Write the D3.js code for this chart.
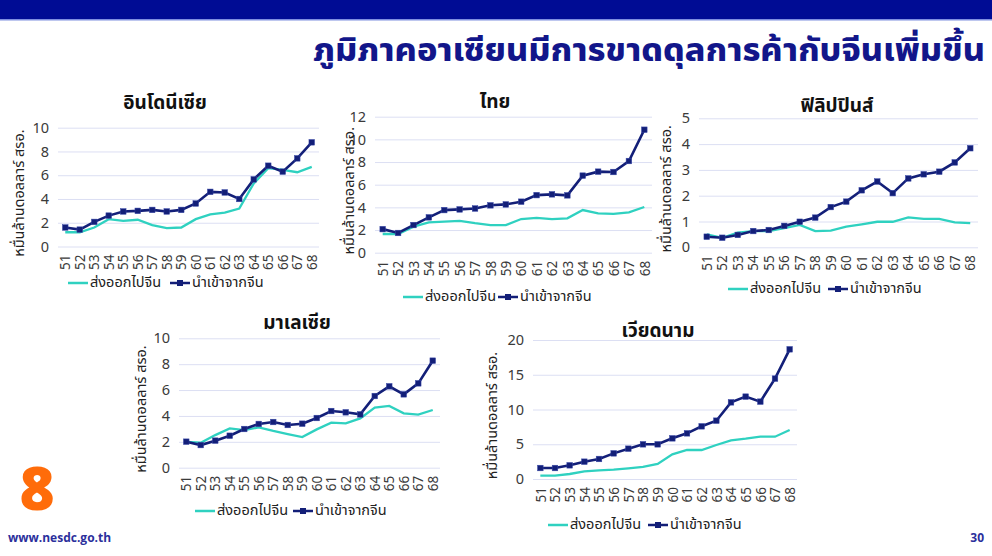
<!DOCTYPE html>
<html><head><meta charset="utf-8">
<script src="https://cdn.jsdelivr.net/npm/d3@7"></script>
<style>
html,body{margin:0;padding:0;background:#fff;}
svg{display:block;font-family:"Noto Sans Thai","Noto Sans","DejaVu Sans",sans-serif;}
</style></head><body>
<svg id="c" width="992" height="556"></svg>
<script>
const years = ["51","52","53","54","55","56","57","58","59","60","61","62","63","64","65","66","67","68"];
const seriesNames = ["ส่งออกไปจีน","นำเข้าจากจีน"];
const countries = ["อินโดนีเซีย","ไทย","ฟิลิปปินส์","มาเลเซีย","เวียดนาม"];
const yLabel = "หมื่นล้านดอลลาร์ สรอ.";
const mainTitle = "ภูมิภาคอาเซียนมีการขาดดุลการค้ากับจีนเพิ่มขึ้น";

const idnExport = [1.2,1.2,1.6,2.3,2.15,2.25,1.8,1.55,1.6,2.3,2.7,2.85,3.2,5.3,6.6,6.45,6.25,6.7];
const idnImport = [1.6,1.42,2.07,2.6,2.95,3.0,3.08,2.95,3.08,3.62,4.6,4.55,4.0,5.65,6.8,6.3,7.42,8.77];
const thaExport = [1.65,1.65,2.3,2.68,2.74,2.8,2.6,2.44,2.44,2.97,3.08,2.97,3.03,3.76,3.47,3.42,3.56,4.03];
const thaImport = [2.08,1.74,2.44,3.12,3.76,3.82,3.9,4.18,4.26,4.5,5.08,5.15,5.06,6.8,7.15,7.12,8.09,10.85];
const phlExport = [0.5,0.37,0.57,0.63,0.63,0.74,0.87,0.63,0.65,0.8,0.89,0.99,0.99,1.16,1.1,1.1,0.97,0.94];
const phlImport = [0.41,0.37,0.48,0.63,0.67,0.83,0.99,1.15,1.56,1.77,2.21,2.55,2.1,2.67,2.83,2.93,3.29,3.84];
const mysExport = [2.0,1.93,2.52,3.04,2.91,3.12,2.84,2.6,2.37,2.96,3.48,3.43,3.81,4.64,4.77,4.2,4.1,4.46];
const mysImport = [2.01,1.75,2.09,2.47,2.99,3.38,3.53,3.3,3.4,3.84,4.38,4.28,4.12,5.54,6.29,5.67,6.52,8.27];
const vnmExport = [0.48,0.48,0.72,1.1,1.25,1.34,1.53,1.73,2.16,3.55,4.17,4.17,4.89,5.56,5.8,6.09,6.09,7.05];
const vnmImport = [1.58,1.58,1.97,2.49,2.88,3.69,4.36,4.99,4.99,5.85,6.57,7.58,8.39,11.03,11.85,11.13,14.44,18.66];

const idnTicks = [0,2,4,6,8,10];
const thaTicks = [0,2,4,6,8,10,12];
const phlTicks = [0,1,2,3,4,5];
const mysTicks = [0,2,4,6,8,10];
const vnmTicks = [0,5,10,15,20];

const exportData = [idnExport, thaExport, phlExport, mysExport, vnmExport];
const importData = [idnImport, thaImport, phlImport, mysImport, vnmImport];
const tickData = [idnTicks, thaTicks, phlTicks, mysTicks, vnmTicks];

// layout only
const layout = [
  {x0:58, x1:319, yT:127.7, yB:246.5, tx:165, ty:103, ly:283, l1:68, l2:170, yl:20},
  {x0:375, x1:652, yT:116.7, yB:252.7, tx:495, ty:102, ly:297, l1:403, l2:498, yl:350},
  {x0:699, x1:978, yT:118.3, yB:247.3, tx:837, ty:106, ly:289, l1:728, l2:828, yl:667},
  {x0:179, x1:440, yT:338.3, yB:467.7, tx:297, ty:323, ly:511, l1:195, l2:293, yl:142},
  {x0:533, x1:797, yT:340, yB:479, tx:658, ty:331, ly:525, l1:548, l2:648, yl:493}
];

const cyan = "#2fd1c0", navy = "#131f78", grid = "#dcdff3", tickCol = "#3a3a3a";
const svg = d3.select("#c");

svg.append("rect").attr("x",0).attr("y",0).attr("width",992).attr("height",19).attr("fill","#000c94");
svg.append("rect").attr("x",0).attr("y",19).attr("width",992).attr("height",1.5).attr("fill","#7f8fe0");

svg.append("text").attr("x",985).attr("y",61).attr("text-anchor","end")
  .attr("font-size",32).attr("font-weight",800).attr("fill","#12168a")
  .attr("textLength",672).attr("lengthAdjust","spacingAndGlyphs")
  .text(mainTitle);

countries.forEach((name,i)=>{
  const L = layout[i];
  const ticks = tickData[i];
  const g = svg.append("g");
  const x = d3.scalePoint().domain(years).range([L.x0, L.x1]).padding(0.5);
  const y = d3.scaleLinear().domain([0, ticks[ticks.length-1]]).range([L.yB, L.yT]);

  const ya = d3.axisLeft(y).tickValues(ticks).tickSize(-(L.x1-L.x0)).tickPadding(9).tickFormat(d3.format("d"));
  const yg = g.append("g").attr("transform",`translate(${L.x0},0)`).call(ya);
  yg.select(".domain").remove();
  yg.selectAll(".tick line").attr("stroke",grid).attr("stroke-width",1);
  yg.selectAll(".tick text").attr("fill",tickCol).attr("font-size",14.5).attr("font-family","'Noto Sans',sans-serif");

  const xa = d3.axisBottom(x).tickSize(0).tickPadding(0);
  const xg = g.append("g").attr("transform",`translate(0,${L.yB})`).call(xa);
  xg.select(".domain").remove();
  xg.selectAll(".tick text").attr("fill",tickCol).attr("font-size",13.5).attr("font-family","'Noto Sans',sans-serif")
    .attr("transform","translate(0,8) rotate(-90)").attr("text-anchor","end").attr("dy","0.35em").attr("y",0).attr("x",0);

  const line = d3.line().x((d,j)=>x(years[j])).y(d=>y(d));
  g.append("path").datum(exportData[i]).attr("d",line).attr("fill","none").attr("stroke",cyan).attr("stroke-width",2.3);
  g.append("path").datum(importData[i]).attr("d",line).attr("fill","none").attr("stroke",navy).attr("stroke-width",2.6);
  g.selectAll("rect.m").data(importData[i]).enter().append("rect").attr("class","m")
    .attr("x",(d,j)=>x(years[j])-2.8).attr("y",d=>y(d)-2.8).attr("width",5.6).attr("height",5.6)
    .attr("fill",navy).attr("stroke","#3848a8").attr("stroke-width",0.5);

  g.append("text").attr("x",L.tx).attr("y",L.ty).attr("text-anchor","middle").attr("dominant-baseline","central")
    .attr("font-size",19).attr("font-weight",700).attr("fill","#111").text(name);

  g.append("text").attr("transform",`translate(${L.yl},${(L.yT+L.yB)/2+6}) rotate(-90)`)
    .attr("text-anchor","middle").attr("dominant-baseline","central").attr("font-size",14.5).attr("fill","#222").text(yLabel);

  g.append("line").attr("x1",L.l1).attr("x2",L.l1+20).attr("y1",L.ly).attr("y2",L.ly).attr("stroke",cyan).attr("stroke-width",2.5);
  g.append("text").attr("x",L.l1+22).attr("y",L.ly).attr("dominant-baseline","central").attr("font-size",14.5).attr("fill","#222").text(seriesNames[0]);
  g.append("line").attr("x1",L.l2).attr("x2",L.l2+20).attr("y1",L.ly).attr("y2",L.ly).attr("stroke",navy).attr("stroke-width",2.5);
  g.append("rect").attr("x",L.l2+7).attr("y",L.ly-3).attr("width",6).attr("height",6).attr("fill",navy);
  g.append("text").attr("x",L.l2+22).attr("y",L.ly).attr("dominant-baseline","central").attr("font-size",14.5).attr("fill","#222").text(seriesNames[1]);
});

svg.append("text").attr("x",37).attr("y",510).attr("text-anchor","middle")
  .attr("font-size",60).attr("font-weight",800).attr("fill","#ff6c0a").attr("font-family","'Open Sans',sans-serif").text("8");
svg.append("text").attr("x",8).attr("y",537).attr("dominant-baseline","central")
  .attr("font-size",12).attr("font-weight",700).attr("fill","#2b2f9c").attr("font-family","'Open Sans',sans-serif").text("www.nesdc.go.th");
svg.append("text").attr("x",984).attr("y",537).attr("text-anchor","end").attr("dominant-baseline","central")
  .attr("font-size",12).attr("font-weight",700).attr("fill","#2b2f9c").attr("font-family","'Open Sans',sans-serif").text("30");
</script>
</body></html>
